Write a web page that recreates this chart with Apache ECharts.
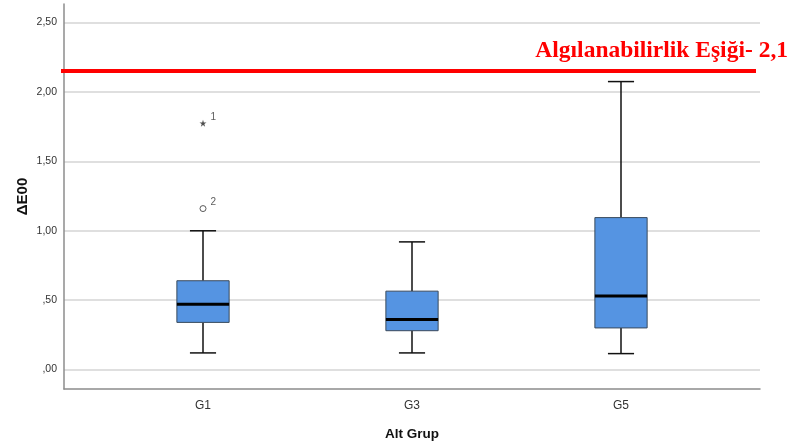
<!DOCTYPE html>
<html><head><meta charset="utf-8">
<script src="https://cdn.jsdelivr.net/npm/echarts@6/dist/echarts.min.js"></script>
<style>html,body{margin:0;padding:0;background:#fff}#c{width:791px;height:443px}</style>
</head><body><div id="c"></div>
<script>
const categories = ['G1', 'G3', 'G5'];
const lowWhisker = [0.12, 0.12, 0.115];
const q1 = [0.34, 0.28, 0.30];
const median = [0.47, 0.36, 0.53];
const q3 = [0.64, 0.565, 1.095];
const highWhisker = [1.00, 0.92, 2.075];
const outlierCircle = [['G1', 1.16, '2']];
const outlierStar = [['G1', 1.775, '1']];
const yTicks = [0, 0.5, 1, 1.5, 2, 2.5];
const thresholdValue = 2.15;
const thresholdText = 'Algılanabilirlik Eşiği- 2,1';

const yMin = -0.14, yMax = 2.634;
const fmt = v => { let s = v.toFixed(2).replace('.', ','); if (s.startsWith('0')) s = s.slice(1); return s; };
const boxData = categories.map((c, i) => [i, lowWhisker[i], q1[i], median[i], q3[i], highWhisker[i]]);
const starPath = 'path://M50,0 L61,35 L98,35 L68,57 L79,91 L50,70 L21,91 L32,57 L2,35 L39,35 Z';

const chart = echarts.init(document.getElementById('c'), null, {renderer: 'canvas'});
chart.setOption({
  animation: false,
  grid: [
    {left: 64, right: 31, top: 4, bottom: 54, outerBoundsMode: 'none'},
    {left: 98.5, right: 65.5, top: 4, bottom: 54, outerBoundsMode: 'none'},
    {left: 61, right: 35, top: 4, bottom: 54, outerBoundsMode: 'none'}
  ],
  xAxis: [
    {gridIndex: 0, type: 'value', min: 0, max: 1, axisLine: {show: true, onZero: false, lineStyle: {color: '#8c8c8c', width: 1.5}},
     axisTick: {show: false}, axisLabel: {show: false}, splitLine: {show: false}},
    {gridIndex: 1, type: 'category', data: categories, boundaryGap: true,
     axisLine: {show: false}, axisTick: {show: false},
     axisLabel: {color: '#333', fontFamily: 'Liberation Sans, Arial', fontSize: 12, margin: 11},
     name: 'Alt Grup', nameLocation: 'middle', nameGap: 38,
     nameTextStyle: {color: '#111', fontFamily: 'Liberation Sans, Arial', fontSize: 13.5, fontWeight: 'bold'}},
    {gridIndex: 2, type: 'value', min: 0, max: 1, show: false}
  ],
  yAxis: [
    {gridIndex: 0, type: 'value', min: yMin, max: yMax,
     axisLine: {show: true, lineStyle: {color: '#8c8c8c', width: 1.5}},
     axisTick: {show: false, customValues: yTicks},
     axisLabel: {customValues: yTicks, formatter: fmt, color: '#333', fontFamily: 'Liberation Sans, Arial', fontSize: 10.5, margin: 7},
     splitLine: {show: true, lineStyle: {color: '#d4d4d4', width: 1.5}},
     name: 'ΔE00', nameLocation: 'middle', nameGap: 34, nameMoveOverlap: false,
     nameTextStyle: {color: '#111', fontFamily: 'Liberation Sans, Arial', fontSize: 15, fontWeight: 'bold'}},
    {gridIndex: 1, type: 'value', min: yMin, max: yMax, show: false},
    {gridIndex: 2, type: 'value', min: yMin, max: yMax, show: false}
  ],
  series: [
    {type: 'line', xAxisIndex: 2, yAxisIndex: 2, data: [], silent: true,
     markLine: {silent: true, symbol: 'none', label: {show: false},
       lineStyle: {color: '#ff0000', width: 4, type: 'solid'},
       data: [[{coord: [0, thresholdValue]}, {coord: [1, thresholdValue]}]]}},
    {type: 'custom', xAxisIndex: 1, yAxisIndex: 1, data: boxData,
     renderItem: function (params, api) {
       const i = api.value(0);
       const band = api.size([1, 0])[0];
       const hw = band * 0.125, cw = band * 0.0625;
       const pLow = api.coord([i, api.value(1)]);
       const pQ1 = api.coord([i, api.value(2)]);
       const pMed = api.coord([i, api.value(3)]);
       const pQ3 = api.coord([i, api.value(4)]);
       const pHigh = api.coord([i, api.value(5)]);
       const x = pLow[0];
       const ls = {stroke: '#111', lineWidth: 1.5};
       return {type: 'group', children: [
         {type: 'line', shape: {x1: x, y1: pHigh[1], x2: x, y2: pQ3[1]}, style: ls},
         {type: 'line', shape: {x1: x, y1: pQ1[1], x2: x, y2: pLow[1]}, style: ls},
         {type: 'line', shape: {x1: x - cw, y1: pHigh[1], x2: x + cw, y2: pHigh[1]}, style: ls},
         {type: 'line', shape: {x1: x - cw, y1: pLow[1], x2: x + cw, y2: pLow[1]}, style: ls},
         {type: 'rect', shape: {x: x - hw, y: pQ3[1], width: 2 * hw, height: pQ1[1] - pQ3[1]},
          style: {fill: '#5594e2', stroke: '#3a4a5c', lineWidth: 1}},
         {type: 'line', shape: {x1: x - hw, y1: pMed[1], x2: x + hw, y2: pMed[1]}, style: {stroke: '#000', lineWidth: 3}}
       ]};
     }},
    {type: 'scatter', xAxisIndex: 1, yAxisIndex: 1, data: outlierCircle, symbol: 'circle', symbolSize: 6,
     itemStyle: {color: '#fff', borderColor: '#333', borderWidth: 1},
     label: {show: true, formatter: p => p.data[2], position: 'right', offset: [-1, -6], color: '#333', fontSize: 10, fontFamily: 'Liberation Sans, Arial'}},
    {type: 'scatter', xAxisIndex: 1, yAxisIndex: 1, data: outlierStar, symbol: starPath, symbolSize: 7,
     itemStyle: {color: '#222'},
     label: {show: true, formatter: p => p.data[2], position: 'right', offset: [-1, -6], color: '#333', fontSize: 10, fontFamily: 'Liberation Sans, Arial'}}
  ],
  graphic: [
    {type: 'text', right: 3, top: 39, style: {text: thresholdText, fill: '#ff0000',
      font: 'bold 23.5px "Liberation Serif", "Times New Roman", serif', textAlign: 'right'}}
  ]
});
</script></body></html>
